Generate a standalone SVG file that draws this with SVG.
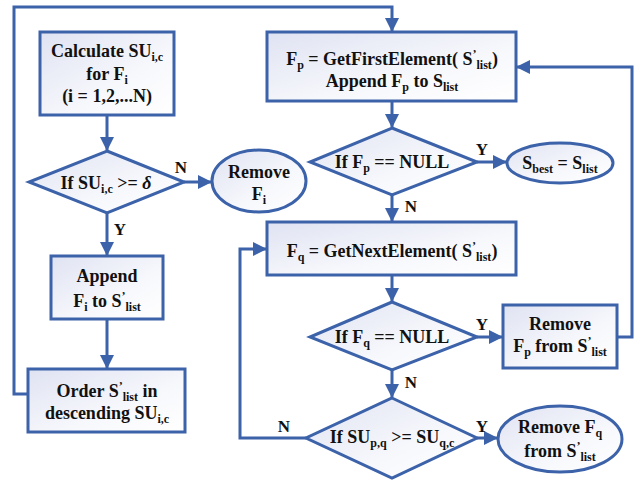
<svg xmlns="http://www.w3.org/2000/svg" width="641" height="481" viewBox="0 0 641 481">
<defs>
<linearGradient id="g" x1="0" y1="0" x2="1" y2="1">
<stop offset="0" stop-color="#dfe2f2"/>
<stop offset="0.6" stop-color="#f7f8fc"/>
<stop offset="1" stop-color="#ffffff"/>
</linearGradient>
<marker id="arr" markerUnits="userSpaceOnUse" markerWidth="14" markerHeight="14" viewBox="0 0 14 14" refX="13" refY="7" orient="auto">
<path d="M0,0 L14,7 L0,14 Z" fill="#3c62a9"/>
</marker>
<style>
.s{fill:url(#g);stroke:#3c62a9;stroke-width:3}
.c{fill:none;stroke:#3c62a9;stroke-width:3;marker-end:url(#arr)}
text{font-family:"Liberation Serif","Times New Roman",serif;font-weight:bold;font-size:18px;fill:#111;text-anchor:middle}
.sb{font-size:12px}
.lb{font-size:17px}
</style>
</defs>
<g id="connectors">
<path class="c" d="M107,115 V150"/>
<path class="c" d="M184,182 H211"/>
<path class="c" d="M107,213 V255"/>
<path class="c" d="M107,319 V368"/>
<path class="c" d="M28,394 H14 V7 H392 V31"/>
<path class="c" d="M392,101 V127"/>
<path class="c" d="M477,162 H506"/>
<path class="c" d="M392,195 V221"/>
<path class="c" d="M392,275 V301"/>
<path class="c" d="M477,337 H502"/>
<path class="c" d="M617,337 H632 V67 H517"/>
<path class="c" d="M392,370 V397"/>
<path class="c" d="M477,438 H497"/>
<path class="c" d="M306,438 H240 V249 H266"/>
<text class="lb" x="181" y="173">N</text>
<text class="lb" x="120" y="235">Y</text>
<text class="lb" x="482" y="155">Y</text>
<text class="lb" x="411" y="212">N</text>
<text class="lb" x="482" y="330">Y</text>
<text class="lb" x="411" y="388">N</text>
<text class="lb" x="284" y="432">N</text>
<text class="lb" x="482" y="432">Y</text>
</g>
<g id="calc">
<rect class="s" x="40" y="32" width="134" height="83"/>
<text x="107" y="57">Calculate SU<tspan class="sb" dy="4">i,c</tspan></text>
<text x="107" y="80">for F<tspan class="sb" dy="4">i</tspan></text>
<text x="107" y="102">(i = 1,2,...N)</text>
</g>
<g id="dec1">
<polygon class="s" points="107,151 184,182 107,213 29,182"/>
<text x="106" y="189">If SU<tspan class="sb" dy="4">i,c</tspan><tspan dy="-4"> &gt;= </tspan><tspan font-style="italic">δ</tspan></text>
</g>
<g id="removeFi">
<ellipse class="s" cx="259" cy="181" rx="47" ry="31"/>
<text x="259" y="178">Remove</text>
<text x="259" y="200">F<tspan class="sb" dy="4">i</tspan></text>
</g>
<g id="append">
<rect class="s" x="51" y="256" width="112" height="63"/>
<text x="107" y="282">Append</text>
<text x="107" y="307">F<tspan class="sb" dy="4">i</tspan><tspan dy="-4"> to S</tspan><tspan class="sb" dy="-7">’</tspan><tspan class="sb" dy="11">list</tspan></text>
</g>
<g id="order">
<rect class="s" x="28" y="369" width="157" height="63"/>
<text x="107" y="397">Order S<tspan class="sb" dy="-7">’</tspan><tspan class="sb" dy="11">list</tspan><tspan dy="-4"> in</tspan></text>
<text x="107" y="419">descending SU<tspan class="sb" dy="4">i,c</tspan></text>
</g>
<g id="getFirst">
<rect class="s" x="267" y="32" width="249" height="69"/>
<text x="392" y="65">F<tspan class="sb" dy="4">p</tspan><tspan dy="-4"> = GetFirstElement( S</tspan><tspan class="sb" dy="-7">’</tspan><tspan class="sb" dy="11">list</tspan><tspan dy="-4">)</tspan></text>
<text x="392" y="87">Append F<tspan class="sb" dy="4">p</tspan><tspan dy="-4"> to S</tspan><tspan class="sb" dy="4">list</tspan></text>
</g>
<g id="dec2">
<polygon class="s" points="392,128 477,162 392,195 310,162"/>
<text x="392" y="168">If F<tspan class="sb" dy="4">p</tspan><tspan dy="-4"> == NULL</tspan></text>
</g>
<g id="sbest">
<ellipse class="s" cx="560" cy="163" rx="53" ry="20"/>
<text x="560" y="169">S<tspan class="sb" dy="4">best</tspan><tspan dy="-4"> = S</tspan><tspan class="sb" dy="4">list</tspan></text>
</g>
<g id="getNext">
<rect class="s" x="267" y="222" width="249" height="53"/>
<text x="392" y="257">F<tspan class="sb" dy="4">q</tspan><tspan dy="-4"> = GetNextElement( S</tspan><tspan class="sb" dy="-7">’</tspan><tspan class="sb" dy="11">list</tspan><tspan dy="-4">)</tspan></text>
</g>
<g id="dec3">
<polygon class="s" points="392,302 477,337 392,370 310,337"/>
<text x="392" y="343">If F<tspan class="sb" dy="4">q</tspan><tspan dy="-4"> == NULL</tspan></text>
</g>
<g id="removeFp">
<rect class="s" x="503" y="305" width="114" height="63"/>
<text x="560" y="330">Remove</text>
<text x="560" y="352">F<tspan class="sb" dy="4">p</tspan><tspan dy="-4"> from S</tspan><tspan class="sb" dy="-7">’</tspan><tspan class="sb" dy="11">list</tspan></text>
</g>
<g id="dec4">
<polygon class="s" points="392,398 477,438 392,478 306,438"/>
<text x="392" y="443">If SU<tspan class="sb" dy="4">p,q</tspan><tspan dy="-4"> &gt;= SU</tspan><tspan class="sb" dy="4">q,c</tspan></text>
</g>
<g id="removeFq">
<ellipse class="s" cx="560" cy="439" rx="62" ry="33"/>
<text x="560" y="433">Remove F<tspan class="sb" dy="4">q</tspan></text>
<text x="560" y="457">from S<tspan class="sb" dy="-7">’</tspan><tspan class="sb" dy="11">list</tspan></text>
</g>
</svg>
